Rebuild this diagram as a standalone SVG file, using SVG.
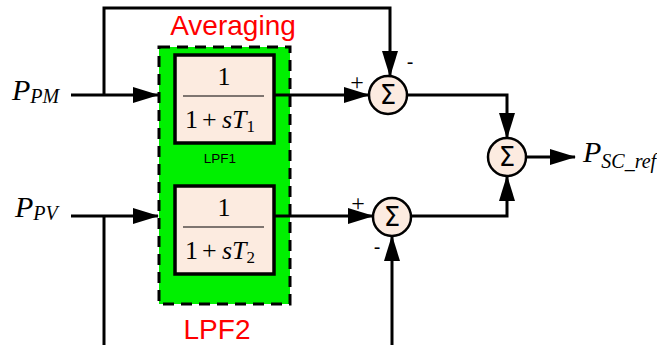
<svg xmlns="http://www.w3.org/2000/svg" width="657" height="345" viewBox="0 0 657 345">
<style>
.ln{fill:none;stroke:#000;stroke-width:3}
.blk{fill:#fcebe0;stroke:#000;stroke-width:3.5}
.sum{fill:#fcebe0;stroke:#000;stroke-width:2.5}
.grp{fill:#00f000;stroke:#000;stroke-width:3;stroke-dasharray:11 7}
.sig{font-family:"DejaVu Sans",sans-serif;font-size:26px;text-anchor:middle}
.ser{font-family:"Liberation Serif",serif;font-size:26px}
.it{font-style:italic}
.red{font-family:"Liberation Sans",Arial,sans-serif;font-size:28px;fill:#ff0000;text-anchor:middle}
.pl{font-family:"Liberation Serif",serif;font-size:24px;text-anchor:middle}
.mi{font-family:"Liberation Sans",Arial,sans-serif;font-size:20px;text-anchor:middle}
.lbl{font-family:"Liberation Serif",serif;font-style:italic;font-size:30px}
</style>
<defs>
<marker id="ah" markerWidth="26" markerHeight="16" refX="25" refY="8" orient="auto" markerUnits="userSpaceOnUse">
<path d="M0,0 L26,8 L0,16 Z" fill="#000"/>
</marker>
</defs>
<g id="averaging">
<rect class="grp" x="159" y="47" width="131" height="257"/>
<text class="red" x="233" y="35">Averaging</text>
<text class="red" x="217" y="339" font-size="27">LPF2</text>
<text x="220" y="163" font-family="Liberation Sans,Arial,sans-serif" font-size="13.5" text-anchor="middle">LPF1</text>
</g>
<g id="lpf1">
<rect class="blk" x="175" y="55" width="99" height="88"/>
<text class="ser" x="224" y="85" text-anchor="middle">1</text>
<line x1="183" y1="96" x2="264" y2="96" stroke="#000" stroke-width="1.2"/>
<text class="ser" y="128"><tspan x="185">1</tspan><tspan x="202">+</tspan><tspan x="222" class="it">sT</tspan><tspan font-size="17" dy="4">1</tspan></text>
</g>
<g id="lpf2">
<rect class="blk" x="175" y="186" width="99" height="88"/>
<text class="ser" x="224" y="216" text-anchor="middle">1</text>
<line x1="183" y1="227" x2="264" y2="227" stroke="#000" stroke-width="1.2"/>
<text class="ser" y="259"><tspan x="185">1</tspan><tspan x="202">+</tspan><tspan x="222" class="it">sT</tspan><tspan font-size="17" dy="4">2</tspan></text>
</g>
<g id="sum1">
<circle class="sum" cx="388" cy="95" r="19"/>
<text class="sig" x="388" y="104">Σ</text>
<text class="pl" x="357" y="90">+</text>
<text class="mi" x="410" y="69">-</text>
</g>
<g id="sum2">
<circle class="sum" cx="392" cy="217" r="19"/>
<text class="sig" x="392" y="226">Σ</text>
<text class="pl" x="358" y="211">+</text>
<text class="mi" x="377" y="254">-</text>
</g>
<g id="sum3">
<circle class="sum" cx="507" cy="157" r="19"/>
<text class="sig" x="507" y="166">Σ</text>
</g>
<g id="labels">
<text class="lbl" x="12" y="100">P<tspan font-size="20" dy="3">PM</tspan></text>
<text class="lbl" x="15" y="217">P<tspan font-size="20" dy="3">PV</tspan></text>
<text class="lbl" x="583" y="162">P<tspan font-size="20" dy="6">SC_ref</tspan></text>
</g>
<g id="connectors">
<path class="ln" d="M71,95 H158" marker-end="url(#ah)"/>
<path class="ln" d="M104,95 V8 H390 V76" marker-end="url(#ah)"/>
<path class="ln" d="M274,95 H369" marker-end="url(#ah)"/>
<path class="ln" d="M71,216 H158" marker-end="url(#ah)"/>
<path class="ln" d="M104,216 V345"/>
<path class="ln" d="M274,216 H373" marker-end="url(#ah)"/>
<path class="ln" d="M392,345 V236" marker-end="url(#ah)"/>
<path class="ln" d="M407,95 H507 V138" marker-end="url(#ah)"/>
<path class="ln" d="M411,216 H507 V176" marker-end="url(#ah)"/>
<path class="ln" d="M526,157 H575" marker-end="url(#ah)"/>
</g>
</svg>
